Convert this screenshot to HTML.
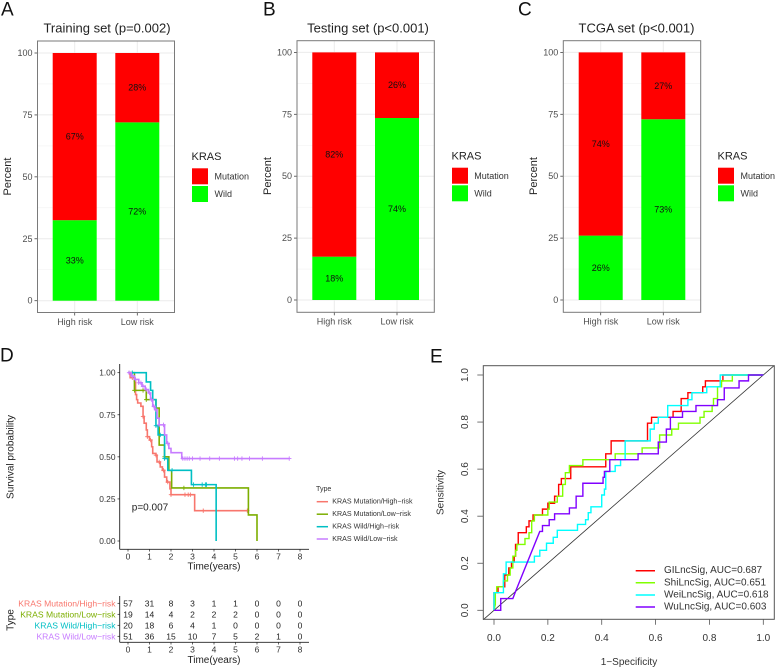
<!DOCTYPE html>
<html lang="en">
<head>
<meta charset="utf-8">
<title>KRAS risk panels</title>
<style>
html,body{margin:0;padding:0;background:#fff;}
svg{display:block;font-family:"Liberation Sans",Arial,sans-serif;}
text{dominant-baseline:central;}
.letter{font-size:19px;fill:#111;}
.title{font-size:13px;fill:#222;text-anchor:middle;}
.axt{font-size:11px;fill:#222;text-anchor:middle;}
.legt{font-size:11px;fill:#222;}
.legl{font-size:9px;fill:#333;}
.km{font-size:10px;fill:#222;text-anchor:middle;}
.kml{font-size:7.1px;fill:#333;}
.roc{font-size:10px;fill:#333;}
</style>
</head>
<body>
<svg id="fig" xmlns="http://www.w3.org/2000/svg" width="777" height="670" viewBox="0 0 777 670">
  <rect x="0" y="0" width="777" height="670" fill="#fff"/>

  <text class="letter" x="1" y="10">A</text>
  <text class="letter" x="263" y="10">B</text>
  <text class="letter" x="518" y="10">C</text>
  <text class="letter" x="0" y="356">D</text>
  <text class="letter" x="430" y="357">E</text>

  <text class="title" x="107" y="28">Training set (p=0.002)</text>
  <text class="title" x="368" y="28">Testing set (p&lt;0.001)</text>
  <text class="title" x="636.5" y="28">TCGA set (p&lt;0.001)</text>

  <text class="axt" transform="translate(8,176.5) rotate(-90)">Percent</text>
  <text class="axt" transform="translate(268,176) rotate(-90)">Percent</text>
  <text class="axt" transform="translate(534,176) rotate(-90)">Percent</text>

  <g>
    <text class="legt" x="191.5" y="157">KRAS</text>
    <rect x="192" y="168.3" width="16" height="16" fill="#ff0000"/>
    <rect x="192" y="186" width="16" height="16" fill="#00ff00"/>
    <text class="legl" x="214.5" y="176.5">Mutation</text>
    <text class="legl" x="214.5" y="194">Wild</text>
  </g>
  <g>
    <text class="legt" x="451.5" y="156.5">KRAS</text>
    <rect x="452" y="167.7" width="16" height="16" fill="#ff0000"/>
    <rect x="452" y="185.3" width="16" height="16" fill="#00ff00"/>
    <text class="legl" x="474.3" y="176">Mutation</text>
    <text class="legl" x="474.3" y="193.5">Wild</text>
  </g>
  <g>
    <text class="legt" x="717.5" y="156.5">KRAS</text>
    <rect x="718" y="167.7" width="16" height="16" fill="#ff0000"/>
    <rect x="718" y="185.3" width="16" height="16" fill="#00ff00"/>
    <text class="legl" x="740.5" y="176">Mutation</text>
    <text class="legl" x="740.5" y="193.5">Wild</text>
  </g>

  <text class="km" transform="translate(11,457) rotate(-90)">Survival probability</text>
  <text class="km" x="214" y="567">Time(years)</text>
  <text class="km" x="150" y="508">p=0.007</text>
  <text class="km" transform="translate(11,620) rotate(-90)">Type</text>
  <text class="km" x="214" y="660.5">Time(years)</text>

  <g>
    <text class="kml" x="316" y="489">Type</text>
    <line x1="316.7" x2="328" y1="501.7" y2="501.7" stroke="#F8766D" stroke-width="1.5"/>
    <line x1="316.7" x2="328" y1="514.2" y2="514.2" stroke="#7CAE00" stroke-width="1.5"/>
    <line x1="316.7" x2="328" y1="526.7" y2="526.7" stroke="#00BFC4" stroke-width="1.5"/>
    <line x1="316.7" x2="328" y1="539" y2="539" stroke="#C77CFF" stroke-width="1.5"/>
    <text class="kml" x="332.3" y="501.7">KRAS Mutation/High−risk</text>
    <text class="kml" x="332.3" y="514.2">KRAS Mutation/Low−risk</text>
    <text class="kml" x="332.3" y="526.7">KRAS Wild/High−risk</text>
    <text class="kml" x="332.3" y="539">KRAS Wild/Low−risk</text>
  </g>

  <text class="roc" x="629" y="662.5" text-anchor="middle">1−Specificity</text>
  <text class="roc" text-anchor="middle" transform="translate(441,492.5) rotate(-90)">Sensitivity</text>
  <g>
    <line x1="635.7" x2="655" y1="570.7" y2="570.7" stroke="#ff0000" stroke-width="1.5"/>
    <line x1="635.7" x2="655" y1="582.8" y2="582.8" stroke="#80ff00" stroke-width="1.5"/>
    <line x1="635.7" x2="655" y1="595" y2="595" stroke="#00ffff" stroke-width="1.5"/>
    <line x1="635.7" x2="655" y1="607" y2="607" stroke="#8000ff" stroke-width="1.5"/>
    <text class="roc" x="664" y="570.7">GILncSig, AUC=0.687</text>
    <text class="roc" x="664" y="582.8">ShiLncSig, AUC=0.651</text>
    <text class="roc" x="664" y="595">WeiLncSig, AUC=0.618</text>
    <text class="roc" x="664" y="607">WuLncSig, AUC=0.603</text>
  </g>
</svg>

<script>
// ---------- stacked bars ----------
const riskCategories = ['High risk', 'Low risk'];
const percentTicks = [0, 25, 50, 75, 100];
const percentMinorTicks = [12.5, 37.5, 62.5, 87.5];
const trainingWild = [32.5, 72];
const trainingMutation = [67.5, 28];
const trainingWildLabels = ['33%', '72%'];
const trainingMutationLabels = ['67%', '28%'];
const testingWild = [17.5, 73.5];
const testingMutation = [82.5, 26.5];
const testingWildLabels = ['18%', '74%'];
const testingMutationLabels = ['82%', '26%'];
const tcgaWild = [26, 73];
const tcgaMutation = [74, 27];
const tcgaWildLabels = ['26%', '73%'];
const tcgaMutationLabels = ['74%', '27%'];

// ---------- survival curves ----------
const kmTickYears = [0, 1, 2, 3, 4, 5, 6, 7, 8];
const kmTickSurvival = ['0.00', '0.25', '0.50', '0.75', '1.00'];
const kmRedTimes = [0, 0.1, 0.3, 0.35, 0.4, 0.45, 0.6, 0.7, 0.75, 0.85, 0.9, 1.0, 1.1, 1.15, 1.3, 1.35, 1.5, 1.6, 1.7, 1.8, 1.95, 2.0, 3.1, 5.6];
const kmRedSurvival = [1, 0.97, 0.95, 0.87, 0.84, 0.82, 0.8, 0.74, 0.7, 0.66, 0.62, 0.6, 0.56, 0.52, 0.51, 0.47, 0.44, 0.42, 0.38, 0.35, 0.31, 0.275, 0.18, 0.18];
const kmRedCensor = [0.2, 0.7, 0.9, 1.05, 1.3, 1.45, 1.65, 1.85, 2.0, 2.65, 2.8, 2.9, 3.5, 5.55];
const kmGreenTimes = [0, 0.3, 0.85, 1.3, 1.45, 1.7, 1.9, 2.03, 5.6, 6, 6];
const kmGreenSurvival = [1, 0.895, 0.84, 0.79, 0.57, 0.5, 0.42, 0.315, 0.155, 0.155, 0];
const kmGreenCensor = [0.3, 0.7, 0.85, 1.3, 1.7, 2.6];
const kmCyanTimes = [0, 0.85, 1.05, 1.15, 1.3, 1.4, 1.7, 1.85, 2.95, 4.1];
const kmCyanSurvival = [1, 0.945, 0.895, 0.84, 0.685, 0.63, 0.49, 0.42, 0.335, 0];
const kmCyanCensor = [0.2, 1.3, 1.5, 1.7, 2.05, 3.05, 3.45, 3.6, 3.65];
const kmPurpleTimes = [0, 0.15, 0.3, 0.5, 0.65, 0.8, 0.95, 1.05, 1.15, 1.25, 1.35, 1.45, 1.7, 1.8, 1.9, 2, 2.5, 7.5];
const kmPurpleSurvival = [1, 0.98, 0.96, 0.94, 0.92, 0.9, 0.88, 0.84, 0.8, 0.78, 0.73, 0.69, 0.63, 0.58, 0.55, 0.525, 0.49, 0.49];
const kmPurpleCensor = [0.05, 0.2, 0.35, 0.5, 0.6, 0.7, 0.85, 1, 1.1, 1.2, 1.3, 1.45, 1.65, 1.85, 2.55, 2.65, 2.75, 2.85, 3.0, 3.35, 3.8, 4.25, 4.95, 5.1, 5.3, 5.65, 6.25, 7.5];

// ---------- risk table ----------
const tableRowLabels = ['KRAS Mutation/High−risk', 'KRAS Mutation/Low−risk', 'KRAS Wild/High−risk', 'KRAS Wild/Low−risk'];
const tableMutationHigh = [57, 31, 8, 3, 1, 1, 0, 0, 0];
const tableMutationLow = [19, 14, 4, 2, 2, 2, 0, 0, 0];
const tableWildHigh = [20, 18, 6, 4, 1, 0, 0, 0, 0];
const tableWildLow = [51, 36, 15, 10, 7, 5, 2, 1, 0];

// ---------- ROC curves ----------
const rocTicks = ['0.0', '0.2', '0.4', '0.6', '0.8', '1.0'];
const giFpr = [0,0,.015,.015,.04,.04,.055,.055,.065,.065,.075,.075,.08,.08,.09,.09,.12,.12,.13,.13,.145,.145,.18,.18,.2,.2,.225,.225,.24,.24,.25,.25,.285,.285,.415,.415,.435,.435,.57,.57,.585,.585,.665,.665,.695,.695,.72,.72,.775,.775,.785,.785,.85,.85,1];
const giTpr = [0,.075,.075,.1,.1,.15,.15,.18,.18,.205,.205,.23,.23,.28,.28,.33,.33,.355,.355,.38,.38,.405,.405,.43,.43,.455,.455,.485,.485,.535,.535,.56,.56,.61,.61,.665,.665,.72,.72,.795,.795,.82,.82,.845,.845,.9,.9,.925,.925,.95,.95,.975,.975,1,1];
const shiFpr = [0,.005,.005,.01,.01,.035,.035,.05,.05,.06,.06,.07,.07,.08,.08,.085,.085,.115,.115,.13,.13,.14,.14,.15,.15,.2,.2,.205,.205,.235,.235,.255,.255,.265,.265,.28,.28,.33,.33,.45,.45,.55,.55,.615,.615,.66,.66,.685,.685,.765,.765,.78,.78,.81,.81,.815,.815,.83,.83,.845,.845,.885,.885,1];
const shiTpr = [0,.025,.075,.075,.1,.1,.125,.125,.15,.15,.18,.18,.23,.23,.255,.255,.28,.28,.305,.305,.33,.33,.38,.38,.405,.405,.43,.43,.46,.46,.485,.485,.535,.535,.585,.585,.615,.615,.64,.64,.665,.665,.69,.69,.745,.745,.77,.77,.795,.795,.82,.82,.845,.845,.87,.87,.9,.9,.95,.95,.975,.975,1,1];
const weiFpr = [0,0,.035,.035,.045,.045,.15,.15,.17,.17,.195,.195,.22,.22,.235,.235,.31,.31,.34,.34,.35,.35,.36,.36,.4,.4,.41,.41,.415,.415,.45,.45,.47,.47,.487,.487,.58,.58,.595,.595,.61,.61,.645,.645,.72,.72,.735,.735,.79,.79,.84,.84,1];
const weiTpr = [0,.075,.075,.155,.155,.205,.205,.23,.23,.255,.255,.285,.285,.31,.31,.34,.34,.365,.365,.385,.385,.415,.415,.44,.44,.49,.49,.515,.515,.59,.59,.615,.615,.64,.64,.72,.72,.77,.77,.795,.795,.82,.82,.87,.87,.895,.895,.925,.925,.95,.95,1,1];
const wuFpr = [0,.025,.025,.07,.08,.17,.18,.18,.205,.205,.225,.225,.28,.28,.305,.305,.33,.33,.405,.405,.41,.41,.43,.43,.535,.535,.61,.61,.64,.64,.655,.655,.7,.7,.75,.75,.83,.83,.855,.855,.91,.91,.945,.945,1];
const wuTpr = [0,0,.05,.05,.08,.335,.335,.36,.36,.385,.385,.41,.41,.435,.435,.485,.485,.54,.54,.565,.565,.59,.59,.64,.64,.665,.665,.715,.715,.77,.77,.82,.82,.845,.845,.87,.87,.895,.895,.945,.945,.975,.975,1,1];

const svg = document.getElementById('fig');
const NS = 'http://www.w3.org/2000/svg';
function add(parent, tag, attrs, txt) {
  const n = document.createElementNS(NS, tag);
  for (const k in attrs) n.setAttribute(k, attrs[k]);
  if (txt !== undefined) n.textContent = txt;
  parent.appendChild(n);
  return n;
}

function drawBars(boxL, boxR, boxT, boxB, y100, y0, catCenters, wild, mutation, wildLabels, mutationLabels) {
  const py = v => y0 + (y100 - y0) * v / 100;
  const g = add(svg, 'g', {});
  
  
  percentMinorTicks.forEach(v => {
    const el = add(g, 'line', {x1: boxL, x2: boxR, y1: py(v), y2: py(v), stroke: '#f2f2f2', 'stroke-width': 0.6});
    
    
  });
  percentTicks.forEach(v => {
    const el = add(g, 'line', {x1: boxL, x2: boxR, y1: py(v), y2: py(v), stroke: '#ebebeb', 'stroke-width': 1});
    
    
    const tk = add(g, 'line', {x1: boxL - 3, x2: boxL, y1: py(v), y2: py(v), stroke: '#444', 'stroke-width': 0.8});
    
    
    const lb = add(g, 'text', {x: boxL - 5, y: py(v), 'text-anchor': 'end', 'font-size': 9, fill: '#4d4d4d'}, String(v));
    
    
  });
  riskCategories.forEach((c, i) => {
    const cx = catCenters[i];
    const gl = add(g, 'line', {x1: cx, x2: cx, y1: boxT, y2: boxB, stroke: '#ebebeb', 'stroke-width': 1});
    
    
    const w = wild[i];
    const m = mutation[i];
    const barW = add(g, 'rect', {x: cx - 22, width: 44, y: py(w), height: py(0) - py(w), fill: '#00ff00'});
    
    
    const barM = add(g, 'rect', {x: cx - 22, width: 44, y: py(w + m), height: py(w) - py(w + m), fill: '#ff0000'});
    
    
    const lw = add(g, 'text', {x: cx, y: py(w / 2), 'text-anchor': 'middle', 'font-size': 9, fill: '#111'}, wildLabels[i]);
    
    
    const lm = add(g, 'text', {x: cx, y: py(w + m / 2), 'text-anchor': 'middle', 'font-size': 9, fill: '#111'}, mutationLabels[i]);
    
    
    const tk = add(g, 'line', {x1: cx, x2: cx, y1: boxB, y2: boxB + 3, stroke: '#444', 'stroke-width': 0.8});
    
    
    const lb = add(g, 'text', {x: cx, y: boxB + 9.3, 'text-anchor': 'middle', 'font-size': 9, fill: '#4d4d4d'}, c);
    
    
  });
  const box = add(g, 'rect', {x: boxL, y: boxT, width: boxR - boxL, height: boxB - boxT, fill: 'none', stroke: '#7a7a7a', 'stroke-width': 1});
  
  
}
drawBars(37.5, 174.5, 41, 312.5, 53, 300.7, [74.7, 137.3], trainingWild, trainingMutation, trainingWildLabels, trainingMutationLabels);
drawBars(297, 434.3, 40.7, 312.3, 52.4, 300, [334.3, 397], testingWild, testingMutation, testingWildLabels, testingMutationLabels);
drawBars(563.3, 700.7, 40.7, 312.3, 52.4, 300, [600.7, 663.3], tcgaWild, tcgaMutation, tcgaWildLabels, tcgaMutationLabels);

// ---------- survival ----------
const kmX = t => 128 + 21.5 * t;
const kmY = s => 541 - 168.3 * s;
const kmG = add(svg, 'g', {});


const kmAxisY = add(kmG, 'line', {x1: 119.7, x2: 119.7, y1: 364, y2: 549.3, stroke: '#222', 'stroke-width': 0.9});


const kmAxisX = add(kmG, 'line', {x1: 119.7, x2: 309, y1: 549.3, y2: 549.3, stroke: '#222', 'stroke-width': 0.9});


kmTickSurvival.forEach(t => {
  const y = kmY(parseFloat(t));
  const tk = add(kmG, 'line', {x1: 117.5, x2: 119.7, y1: y, y2: y, stroke: '#222', 'stroke-width': 0.7});
  
  
  const lb = add(kmG, 'text', {x: 115.5, y: y, 'text-anchor': 'end', 'font-size': 8.4, fill: '#333'}, t);
  
  
});
kmTickYears.forEach(t => {
  const x = kmX(t);
  const tk = add(kmG, 'line', {x1: x, x2: x, y1: 549.3, y2: 551.5, stroke: '#222', 'stroke-width': 0.7});
  
  
  const lb = add(kmG, 'text', {x: x, y: 556.7, 'text-anchor': 'middle', 'font-size': 8.5, fill: '#333'}, String(t));
  
  
});
function survivalAt(times, surv, t) {
  let s = surv[0];
  for (let i = 0; i < times.length; i++) { if (times[i] <= t) s = surv[i]; }
  return s;
}
function drawKm(times, surv, censor, color) {
  let d = 'M' + kmX(times[0]) + ' ' + kmY(surv[0]);
  for (let i = 1; i < times.length; i++) {
    d += 'H' + kmX(times[i]) + 'V' + kmY(surv[i]);
  }
  const line = add(kmG, 'path', {d: d, fill: 'none', stroke: color, 'stroke-width': 1.6});
  
  
  censor.forEach(t => {
    const x = kmX(t);
    const y = kmY(survivalAt(times, surv, t));
    const m = add(kmG, 'path', {d: 'M' + (x - 2.2) + ' ' + y + 'H' + (x + 2.2) + 'M' + x + ' ' + (y - 2.2) + 'V' + (y + 2.2), stroke: color, 'stroke-width': 0.9, fill: 'none'});
    
    
  });
}
drawKm(kmRedTimes, kmRedSurvival, kmRedCensor, '#F8766D');
drawKm(kmGreenTimes, kmGreenSurvival, kmGreenCensor, '#7CAE00');
drawKm(kmCyanTimes, kmCyanSurvival, kmCyanCensor, '#00BFC4');
drawKm(kmPurpleTimes, kmPurpleSurvival, kmPurpleCensor, '#C77CFF');

// ---------- risk table ----------
const tblG = add(svg, 'g', {});


const tblRowY = i => 603.3 + 11 * i;
const tblColors = ['#F8766D', '#7CAE00', '#00BFC4', '#C77CFF'];
const tblRows = [tableMutationHigh, tableMutationLow, tableWildHigh, tableWildLow];
const tblAxisY = add(tblG, 'line', {x1: 119.7, x2: 119.7, y1: 596, y2: 642.3, stroke: '#222', 'stroke-width': 0.9});


const tblAxisX = add(tblG, 'line', {x1: 119.7, x2: 309, y1: 642.3, y2: 642.3, stroke: '#222', 'stroke-width': 0.9});


tableRowLabels.forEach((lab, i) => {
  const y = tblRowY(i);
  const tk = add(tblG, 'line', {x1: 117.5, x2: 119.7, y1: y, y2: y, stroke: '#222', 'stroke-width': 0.7});
  
  
  const lb = add(tblG, 'text', {x: 115.5, y: y, 'text-anchor': 'end', 'font-size': 8.6, fill: tblColors[i]}, lab);
  
  
  tblRows[i].forEach((v, j) => {
    const c = add(tblG, 'text', {x: kmX(kmTickYears[j]), y: y, 'text-anchor': 'middle', 'font-size': 8.5, fill: '#222'}, String(v));
    
    
  });
});
kmTickYears.forEach(t => {
  const x = kmX(t);
  const tk = add(tblG, 'line', {x1: x, x2: x, y1: 642.3, y2: 644.5, stroke: '#222', 'stroke-width': 0.7});
  
  
  const lb = add(tblG, 'text', {x: x, y: 649.5, 'text-anchor': 'middle', 'font-size': 8.5, fill: '#333'}, String(t));
  
  
});

// ---------- ROC ----------
const rocX = v => 494 + 269.3 * v;
const rocY = v => 610.3 - 235.3 * v;
const rocG = add(svg, 'g', {});


const rocL = 483.3, rocR = 774.3, rocT = 365.7, rocB = 619.3;
const diagonal = add(rocG, 'line', {x1: rocL, y1: rocY((rocL - 494) / 269.3), x2: rocR, y2: rocY((rocR - 494) / 269.3), stroke: '#333', 'stroke-width': 0.8});


function drawRoc(fpr, tpr, color) {
  const pts = fpr.map((f, i) => rocX(f) + ',' + rocY(tpr[i])).join(' ');
  const el = add(rocG, 'polyline', {points: pts, fill: 'none', stroke: color, 'stroke-width': 1.4});
  
  
}
drawRoc(giFpr, giTpr, '#ff0000');
drawRoc(shiFpr, shiTpr, '#80ff00');
drawRoc(weiFpr, weiTpr, '#00ffff');
drawRoc(wuFpr, wuTpr, '#8000ff');
const rocBox = add(rocG, 'rect', {x: rocL, y: rocT, width: rocR - rocL, height: rocB - rocT, fill: 'none', stroke: '#555', 'stroke-width': 1});


rocTicks.forEach(t => {
  const v = parseFloat(t);
  const tx = add(rocG, 'line', {x1: rocX(v), x2: rocX(v), y1: rocB, y2: rocB + 5.5, stroke: '#555', 'stroke-width': 0.8});
  
  
  const lx = add(rocG, 'text', {x: rocX(v), y: 638.3, 'text-anchor': 'middle', 'font-size': 10, fill: '#333'}, t);
  
  
  const ty = add(rocG, 'line', {x1: rocL - 6, x2: rocL, y1: rocY(v), y2: rocY(v), stroke: '#555', 'stroke-width': 0.8});
  
  
  const ly = add(rocG, 'text', {transform: 'translate(465.7,' + rocY(v) + ') rotate(-90)', 'text-anchor': 'middle', 'font-size': 10, fill: '#333'}, t);
  
  
});
</script>
</body>
</html>
